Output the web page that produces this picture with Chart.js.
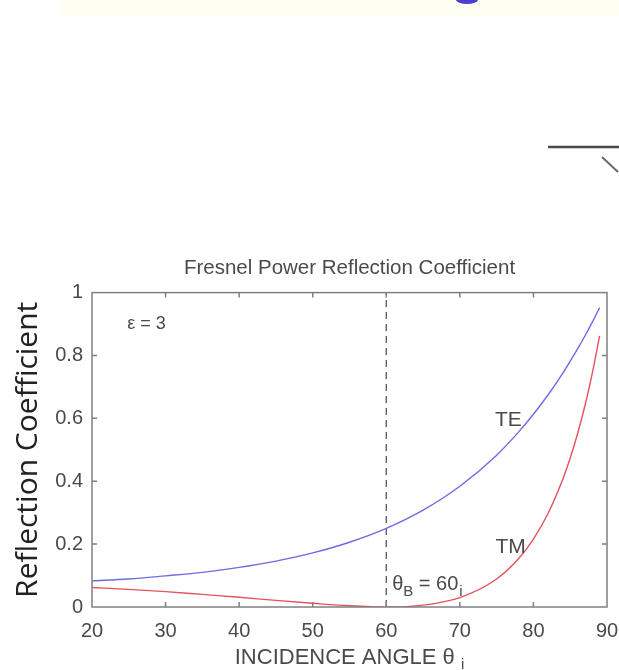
<!DOCTYPE html>
<html>
<head>
<meta charset="utf-8">
<script src="https://cdn.jsdelivr.net/npm/chart.js@4.4.1/dist/chart.umd.min.js"></script>
<style>
  html, body { margin: 0; padding: 0; background: #fff; }
  #wrap { position: relative; width: 619px; height: 670px; overflow: hidden; }
  #deco { position: absolute; left: 0; top: 0; }
  #box { position: absolute; left: 0; top: 240px; width: 619px; height: 430px; }
</style>
</head>
<body>
<div id="wrap">
  <svg id="deco" width="619" height="240">
    <rect x="60" y="0" width="559" height="16" fill="#fefef3"/>
    <ellipse cx="467" cy="0" rx="11" ry="4" fill="#4b3fd4"/>
    <line x1="548" y1="147" x2="619" y2="147" stroke="#4a4a4a" stroke-width="2.5"/>
    <line x1="602" y1="157" x2="618" y2="172" stroke="#6a6a6a" stroke-width="2"/>
  </svg>
  <div id="box"><canvas id="chart"></canvas></div>
</div>
<script>
// incidence angle (deg) and power reflection coefficients for eps = 3
const angles = [20, 25, 30, 35, 40, 45, 50, 55, 60, 65, 70, 75, 78, 80, 82, 84, 85, 86, 87, 88, 89];
const teValues = [0.083, 0.089, 0.099, 0.110, 0.126, 0.146, 0.172, 0.206, 0.250, 0.308, 0.384, 0.483, 0.557, 0.613, 0.675, 0.744, 0.782, 0.821, 0.862, 0.906, 0.952];
const tmValues = [0.062, 0.056, 0.049, 0.040, 0.031, 0.021, 0.012, 0.004, 0.000, 0.006, 0.030, 0.089, 0.154, 0.216, 0.298, 0.407, 0.474, 0.551, 0.640, 0.743, 0.862];
const brewsterAngle = 60;
const xTicks = [20, 30, 40, 50, 60, 70, 80, 90];
const yTicks = [0, 0.2, 0.4, 0.6, 0.8, 1];

const sans = "'Liberation Sans', Arial, sans-serif";
const inkColor = '#4a4a4a';

function toPoints(xs, ys) {
    return xs.map((v, i) => ({ x: v, y: ys[i] }));
}

// box round the plot with matlab-style inward ticks, plus the text notes
const framePlugin = {
    id: 'frame',
    afterDraw(chart) {
        const ctx = chart.ctx;
        const a = chart.chartArea;
        const x = chart.scales.x;
        const y = chart.scales.y;
        ctx.save();
        ctx.strokeStyle = '#808080';
        ctx.lineWidth = 1.5;
        ctx.strokeRect(a.left, a.top, a.right - a.left, a.bottom - a.top);
        ctx.beginPath();
        const len = 5;
        xTicks.slice(1, -1).forEach(v => {
            const px = x.getPixelForValue(v);
            ctx.moveTo(px, a.bottom); ctx.lineTo(px, a.bottom - len);
            ctx.moveTo(px, a.top); ctx.lineTo(px, a.top + len);
        });
        yTicks.slice(1, -1).forEach(v => {
            const py = y.getPixelForValue(v);
            ctx.moveTo(a.left, py); ctx.lineTo(a.left + len, py);
            ctx.moveTo(a.right, py); ctx.lineTo(a.right - len, py);
        });
        ctx.stroke();

        ctx.fillStyle = inkColor;
        ctx.textBaseline = 'alphabetic';

        // epsilon note
        ctx.font = '18px ' + sans;
        ctx.textAlign = 'left';
        ctx.fillText('ε = 3', x.getPixelForValue(24.8), y.getPixelForValue(0.885));

        // curve names
        ctx.font = '21px ' + sans;
        ctx.textAlign = 'center';
        ctx.fillText(chart.data.datasets[0].label, x.getPixelForValue(76.6), y.getPixelForValue(0.575));
        ctx.fillText(chart.data.datasets[1].label, x.getPixelForValue(76.9), y.getPixelForValue(0.172));

        // Brewster angle note with subscripts
        ctx.textAlign = 'left';
        let px = x.getPixelForValue(60.8);
        const base = y.getPixelForValue(0.055);
        ctx.font = '20px ' + sans;
        ctx.fillText('θ', px, base);
        px += ctx.measureText('θ').width;
        ctx.font = '15px ' + sans;
        ctx.fillText('B', px, base + 6);
        px += ctx.measureText('B').width;
        ctx.font = '20px ' + sans;
        const eq = ' = ' + brewsterAngle;
        ctx.fillText(eq, px, base);
        px += ctx.measureText(eq).width;
        ctx.font = '15px ' + sans;
        ctx.fillText('i', px + 1, base + 6);

        // x axis title with subscript
        ctx.font = '22px ' + sans;
        const main = 'INCIDENCE ANGLE θ ';
        const wMain = ctx.measureText(main).width;
        ctx.font = '15px ' + sans;
        const wSub = ctx.measureText('i').width;
        const cx = (a.left + a.right) / 2;
        const tx = cx - (wMain + wSub) / 2;
        const ty = x.bottom - 6;
        ctx.font = '22px ' + sans;
        ctx.fillText(main, tx, ty);
        ctx.font = '15px ' + sans;
        ctx.fillText('i', tx + wMain, ty + 5);
        ctx.restore();
    }
};

const ctx = document.getElementById('chart').getContext('2d');
new Chart(ctx, {
    type: 'line',
    data: {
        datasets: [{
            label: 'TE',
            data: toPoints(angles, teValues),
            borderColor: '#6c6ce0',
            borderWidth: 1.4,
            pointRadius: 0,
            cubicInterpolationMode: 'monotone'
        }, {
            label: 'TM',
            data: toPoints(angles, tmValues),
            borderColor: '#e4525e',
            borderWidth: 1.4,
            pointRadius: 0,
            cubicInterpolationMode: 'monotone'
        }, {
            label: 'Brewster',
            data: [{ x: brewsterAngle, y: 0 }, { x: brewsterAngle, y: 1 }],
            borderColor: '#555555',
            borderWidth: 1.3,
            borderDash: [7, 5],
            pointRadius: 0
        }]
    },
    options: {
        responsive: true,
        maintainAspectRatio: false,
        animation: false,
        layout: { padding: 0 },
        plugins: {
            legend: { display: false },
            tooltip: { enabled: false },
            title: {
                display: true,
                fullSize: false,
                text: 'Fresnel Power Reflection Coefficient',
                color: inkColor,
                font: { family: sans, size: 20.5, weight: 'normal' },
                padding: { top: 16, bottom: 12 }
            }
        },
        scales: {
            x: {
                type: 'linear',
                min: 20,
                max: 90,
                afterFit(scale) {
                    scale.height = 63;
                    scale.paddingLeft = 0;
                    scale.paddingRight = 12;
                },
                afterBuildTicks(scale) { scale.ticks = xTicks.map(v => ({ value: v })); },
                grid: { display: false, drawTicks: false },
                border: { display: false },
                ticks: {
                    color: inkColor,
                    font: { family: sans, size: 20 },
                    padding: 12,
                    maxRotation: 0,
                    callback: v => String(v)
                }
            },
            y: {
                min: 0,
                max: 1,
                afterFit(scale) { scale.width = 92; },
                afterBuildTicks(scale) { scale.ticks = yTicks.map(v => ({ value: v })); },
                grid: { display: false, drawTicks: false },
                border: { display: false },
                ticks: {
                    color: inkColor,
                    font: { family: sans, size: 20 },
                    padding: 9,
                    callback: v => String(v)
                },
                title: {
                    display: true,
                    text: 'Reflection Coefficient',
                    color: '#222',
                    font: { family: "'Open Sans', sans-serif", size: 30 },
                    padding: { top: 10, bottom: 0 }
                }
            }
        }
    },
    plugins: [framePlugin]
});
</script>
</body>
</html>
